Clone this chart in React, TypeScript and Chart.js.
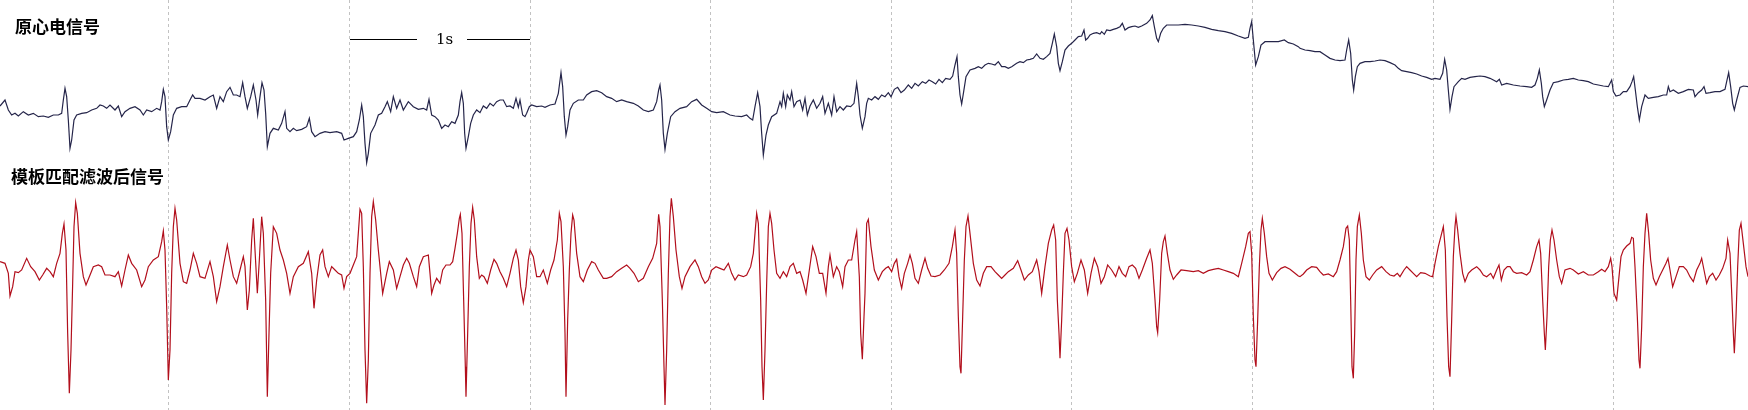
import React, { useEffect, useRef } from "react";
import { Chart, registerables } from "chart.js";

Chart.register(...registerables);

// Raw ECG: [sample index, amplitude (ADC units, baseline-relative)]
const rawEcg: [number, number][] = [
  [0, 12], [15, 30], [25, 0], [35, -15], [45, -10], [55, -18], [70, -5], [85, -15], [100, -10], [115, -20],
  [130, -18], [145, -22], [160, -15], [175, -15], [185, -10], [190, 30], [195, 65], [200, 40], [205, -30], [210, -115],
  [215, -90], [222, -30], [230, -15], [245, -10], [260, -8], [275, 0], [290, 5], [300, 15], [310, 12], [320, 5],
  [330, 15], [345, 0], [355, 12], [365, -20], [375, -5], [390, 5], [405, 10], [420, 0], [430, -15], [440, 0],
  [455, -5], [470, 5], [480, 0], [485, 25], [490, 62], [495, 40], [500, -50], [505, -90], [512, -65], [520, -15],
  [530, 5], [545, 10], [560, 10], [570, 30], [578, 45], [585, 35], [600, 35], [615, 30], [630, 40], [640, 45],
  [650, 5], [660, 40], [670, 25], [680, 55], [690, 68], [700, 45], [710, 45], [720, 40], [728, 82], [735, 40],
  [742, 5], [752, 40], [760, 75], [768, 30], [773, -15], [780, 40], [786, 82], [792, 60], [797, -10], [802, -110],
  [810, -70], [820, -55], [835, -60], [845, -40], [855, -5], [860, -55], [870, -65], [880, -55], [890, -62], [905, -58],
  [920, -50], [928, -25], [935, -65], [945, -80], [960, -70], [975, -65], [990, -68], [1010, -65], [1025, -70], [1032, -90],
  [1045, -85], [1060, -80], [1070, -65], [1078, -30], [1085, 15], [1090, -20], [1095, -100], [1100, -158], [1105, -130], [1112, -70],
  [1125, -45], [1135, -15], [1145, -10], [1155, 10], [1162, 25], [1172, -5], [1180, 40], [1190, 5], [1200, 30], [1210, 0],
  [1225, 25], [1240, 10], [1255, 2], [1270, 5], [1280, 0], [1287, 32],
  [1295, -15], [1305, -20], [1315, -30], [1325, -55], [1335, -45], [1345, -50], [1355, -35], [1365, -40], [1375, -15], [1380, 25],
  [1385, 52], [1390, 20], [1394, -70], [1398, -115], [1405, -80], [1412, -40], [1420, -15], [1430, 0], [1440, -8], [1450, 12],
  [1460, 5], [1470, 20], [1480, 12], [1490, 25], [1500, 30], [1510, 30], [1520, 10], [1530, 12], [1540, 5], [1548, 35],
  [1555, 8], [1560, 30], [1568, -15], [1575, -20], [1580, -10], [1588, 10], [1595, 15], [1610, 10], [1625, 12], [1635, 8],
  [1650, 15], [1665, 18], [1675, 50], [1683, 112], [1688, 70], [1693, -20], [1698, -75], [1703, -50], [1710, 0], [1720, 20],
  [1735, 30], [1750, 30], [1760, 45], [1775, 55], [1790, 58], [1805, 52], [1820, 40], [1835, 35], [1850, 25], [1865, 30],
  [1880, 25], [1900, 20], [1915, 12], [1930, 0], [1945, -5], [1960, 0], [1970, 25], [1976, 60], [1980, 75], [1985, 30],
  [1990, -70], [1995, -118], [2002, -70], [2012, -20], [2025, -5], [2040, 5], [2060, 10], [2075, 25], [2090, 32], [2105, 15],
  [2120, 5], [2135, -5], [2150, -8], [2170, -5], [2190, -15], [2205, -18], [2225, -20], [2240, -15], [2250, -25], [2258, -30],
  [2265, 10], [2273, 52], [2280, 10], [2285, -70], [2290, -135], [2298, -75], [2305, -45], [2315, -20], [2330, -10], [2340, 25],
  [2345, 10], [2350, 50], [2357, 10], [2362, 45], [2370, 30], [2375, 55], [2382, 10], [2390, 25], [2400, 30], [2408, 0],
  [2415, 35], [2422, -15], [2430, 12], [2440, 30], [2450, 5], [2460, 20], [2468, 40], [2475, -10], [2485, 20], [2495, -15],
  [2502, 40], [2510, -5], [2520, 10], [2530, 0], [2540, 12], [2552, 10], [2562, 20], [2570, 80], [2575, 40], [2580, -15],
  [2587, -55],
  [2595, -20], [2600, 20], [2605, 35], [2615, 30], [2625, 40], [2635, 32], [2645, 45], [2655, 40], [2665, 52], [2673, 40],
  [2683, 62], [2693, 68], [2703, 52], [2713, 60], [2725, 75], [2735, 65], [2745, 80], [2755, 72], [2767, 85], [2777, 80],
  [2787, 90], [2797, 85], [2807, 78], [2817, 92], [2827, 82], [2837, 95], [2850, 92], [2858, 102], [2865, 135], [2871, 160],
  [2875, 100], [2880, 45], [2885, 18], [2891, 55], [2898, 100], [2910, 120], [2925, 125], [2935, 130], [2945, 125], [2955, 135],
  [2965, 140], [2975, 138], [2985, 135], [2995, 145], [3005, 130], [3015, 130], [3025, 125], [3035, 130], [3050, 140], [3060, 145],
  [3070, 142], [3080, 150], [3090, 152], [3100, 155], [3110, 168], [3120, 155], [3130, 152], [3140, 160], [3150, 170], [3157, 200],
  [3163, 228], [3170, 190], [3175, 140], [3180, 118], [3187, 145], [3195, 180], [3205, 192], [3215, 200], [3225, 210], [3235, 220],
  [3245, 222], [3252, 240], [3257, 210], [3263, 215], [3270, 225], [3280, 230], [3290, 232], [3300, 228], [3305, 235], [3313, 227],
  [3320, 240], [3330, 238], [3340, 242], [3350, 245], [3360, 250], [3367, 260], [3375, 240], [3385, 247], [3395, 250], [3405, 252],
  [3415, 248], [3425, 252], [3440, 260], [3450, 270], [3457, 283], [3463, 250], [3470, 215], [3475, 205], [3482, 230], [3490, 245],
  [3500, 255], [3515, 255], [3535, 255], [3555, 257], [3575, 255], [3595, 252], [3615, 248], [3635, 242], [3655, 238], [3675, 235],
  [3695, 230], [3715, 222], [3735, 215], [3745, 218], [3750, 245], [3755, 265], [3760, 210], [3767, 135], [3775, 160], [3783, 195],
  [3795, 205], [3815, 205], [3835, 205], [3853, 210], [3865, 202], [3880, 198], [3895, 190],
  [3900, 185], [3915, 180], [3930, 178], [3945, 175], [3960, 175], [3975, 165], [3990, 155], [4005, 150], [4020, 148], [4035, 150],
  [4040, 180], [4046, 210], [4052, 170], [4057, 90], [4061, 60], [4066, 100], [4072, 130], [4080, 140], [4095, 145], [4110, 145],
  [4125, 147], [4140, 150], [4155, 148], [4170, 142], [4185, 135], [4195, 125], [4205, 118], [4220, 115], [4235, 112], [4250, 108],
  [4265, 102], [4280, 98], [4295, 92], [4305, 95], [4320, 92], [4328, 110], [4334, 152], [4340, 120], [4345, 60], [4350, 2],
  [4356, 40], [4362, 70], [4375, 85], [4385, 95], [4395, 92], [4410, 98], [4425, 100], [4440, 102], [4455, 100], [4470, 95],
  [4480, 90], [4490, 85], [4498, 92], [4505, 75], [4520, 80], [4540, 75], [4560, 72], [4580, 70], [4595, 68], [4605, 75],
  [4612, 95], [4618, 120], [4624, 80], [4628, 40], [4633, 10], [4640, 30], [4650, 60], [4660, 82], [4675, 85], [4690, 90],
  [4705, 92], [4720, 95], [4735, 90], [4750, 88], [4765, 85], [4780, 78], [4795, 75], [4810, 72], [4825, 70], [4835, 90],
  [4840, 55], [4848, 42], [4860, 45], [4870, 55], [4880, 55], [4890, 70], [4896, 85], [4901, 100], [4906, 60], [4912, 10],
  [4918, -30], [4925, 10], [4935, 45], [4945, 35], [4960, 38], [4975, 40], [4990, 45], [5000, 45], [5005, 70], [5010, 55],
  [5020, 60], [5035, 50], [5050, 55], [5065, 62], [5080, 60], [5085, 40], [5095, 52], [5105, 60], [5112, 70], [5118, 50],
  [5130, 52], [5145, 55], [5160, 55], [5175, 62], [5180, 85], [5186, 112], [5192, 70], [5198, 20], [5203, 0], [5210, 30],
  [5220, 68], [5230, 72], [5244, 70],
];

// Template-matched filter output: [sample index, amplitude]
const filteredEcg: [number, number][] = [
  [0, 35], [15, 30], [25, 0], [30, -68], [38, -40], [45, 5], [55, 2], [65, 10], [80, 45], [92, 20],
  [105, 5], [118, -20], [128, -5], [140, 15], [150, 5], [160, -10], [170, 30], [180, 60], [187, 120], [192, 148],
  [198, 70], [203, -180], [208, -360], [213, -230], [218, -30], [222, 140], [227, 212], [232, 180], [240, 60], [250, -10],
  [258, -35], [268, -10], [280, 20], [295, 25], [305, 20], [315, -5], [330, -5], [345, -10], [355, 5], [365, -38],
  [375, 10], [385, 55], [395, 30], [410, 10], [425, -40], [435, -20], [445, 20], [460, 40], [475, 50], [485, 95],
  [490, 127], [495, 70], [500, -100], [505, -320], [510, -230], [515, 0], [520, 140], [525, 195], [530, 160], [540, 30],
  [550, -25], [560, -30], [570, 10], [580, 60], [590, 30], [600, -10], [615, -15], [630, 35], [640, -10], [650, -85],
  [660, -40], [670, 20], [682, 85], [690, 40], [700, -10], [710, -30], [720, 10], [730, 50], [735, 20], [742, -110],
  [748, -50], [755, 100], [760, 165], [765, 70], [772, -60], [778, 40], [785, 170], [790, 120], [797, -80], [802, -370],
  [807, -180], [812, 0], [820, 140], [830, 120], [840, 70], [850, 40], [860, 0], [870, -60], [880, -10], [895, 20],
  [910, 30], [925, 65], [935, 0], [942, -105], [950, -20], [960, 55], [968, 70], [975, 20], [985, -10], [995, 20],
  [1005, 10], [1015, 0], [1025, -5], [1032, -45], [1040, -10], [1050, 0], [1060, 25], [1070, 50], [1080, 192], [1085, 180],
  [1090, 20], [1095, -230], [1100, -390], [1105, -260], [1110, 0], [1115, 170], [1120, 215], [1127, 160], [1135, 70], [1148, -60],
  [1160, 0], [1168, 35], [1180, 10], [1190, -45], [1200, -10], [1210, 25], [1220, 45], [1228, 30], [1240, -10], [1250, -40],
  [1258, 20], [1270, 50], [1285, 55],
  [1290, 0], [1295, -60], [1302, -35], [1310, -15], [1320, -30], [1328, 10], [1338, 25], [1350, 25], [1358, 35], [1365, 75],
  [1372, 120], [1378, 165], [1381, 177], [1386, 120], [1391, -80], [1396, -280], [1398, -370], [1403, -180], [1408, 20], [1413, 150],
  [1418, 198], [1423, 160], [1430, 50], [1438, -15], [1445, -5], [1452, -10], [1462, -30], [1472, 10], [1482, 42], [1490, 30],
  [1500, 5], [1510, -15], [1520, -40], [1530, 0], [1540, 45], [1548, 70], [1555, 40], [1562, -40], [1570, -88], [1578, -40],
  [1585, 40], [1590, 70], [1600, 50], [1610, -10], [1620, -10], [1630, 10], [1642, -30], [1652, 10], [1662, 40], [1672, 100],
  [1678, 180], [1683, 155], [1690, 20], [1695, -180], [1698, -370], [1703, -140], [1708, 10], [1713, 120], [1718, 175], [1722, 160],
  [1730, 60], [1740, -10], [1750, -25], [1762, 10], [1775, 35], [1785, 30], [1795, 10], [1810, -15], [1820, -15], [1835, -10],
  [1850, 5], [1865, 15], [1880, 25], [1890, 15], [1902, 0], [1915, -25], [1930, -15], [1945, 20], [1958, 45], [1970, 90],
  [1976, 177], [1980, 140], [1987, -80], [1992, -280], [1995, -395], [2000, -230], [2005, 0], [2010, 170], [2014, 225], [2020, 170],
  [2028, 70], [2038, -10], [2046, -45], [2055, -10], [2070, 20], [2085, 40], [2095, 20], [2105, -10], [2115, -30], [2125, -20],
  [2135, 10], [2148, 20], [2160, 15], [2172, 10], [2185, 30], [2195, 0], [2205, -20], [2215, -5], [2230, -10], [2240, -5],
  [2252, 20], [2260, 60], [2265, 120], [2270, 180], [2275, 150], [2282, -80], [2286, -280], [2290, -380], [2295, -230], [2300, -30],
  [2305, 140], [2310, 180], [2315, 150], [2322, 70], [2330, 0], [2340, -15], [2350, 5], [2360, -10], [2370, 20], [2380, 30],
  [2390, 0], [2400, 5], [2408, -20], [2418, -60], [2428, 10], [2438, 80], [2448, 50], [2458, 0], [2468, 0], [2478, -60],
  [2485, 20], [2490, 55], [2500, -10], [2510, 20], [2518, 5], [2528, -40], [2535, 20], [2545, 40], [2555, 40], [2565, 100],
  [2570, 125], [2578, -10], [2582, -180], [2587, -258], [2592, -130],
  [2595, -60], [2600, 150], [2605, 162], [2613, 80], [2623, 10], [2635, -20], [2647, 5], [2657, 15], [2665, 20], [2675, 5],
  [2683, 30], [2690, 42], [2697, -10], [2705, -45], [2713, 0], [2723, 30], [2730, 55], [2737, 30], [2745, -15], [2755, -30],
  [2765, 10], [2775, 45], [2783, 15], [2793, -8], [2805, -10], [2820, -5], [2833, 10], [2847, 30], [2857, 80], [2865, 130],
  [2870, 60], [2875, -130], [2880, -280], [2883, -300], [2888, -130], [2893, 40], [2898, 140], [2904, 172], [2910, 120], [2920, 30],
  [2930, -20], [2940, -38], [2950, 0], [2960, 20], [2973, 20], [2985, 5], [2995, -5], [3005, -15], [3015, -5], [3025, 5],
  [3040, 15], [3053, 38], [3063, 10], [3073, -20], [3085, -5], [3097, 5], [3110, 40], [3117, 5], [3125, -60], [3135, 20],
  [3145, 90], [3155, 130], [3161, 145], [3167, 100], [3172, -80], [3177, -180], [3180, -255], [3185, -140], [3190, 0], [3195, 120],
  [3201, 135], [3207, 100], [3215, 20], [3223, -25], [3232, 0], [3243, 40], [3253, 10], [3263, -60], [3273, 0], [3283, 45],
  [3293, 20], [3303, -30], [3313, -10], [3323, 25], [3335, 10], [3347, -10], [3357, 20], [3367, 0], [3377, -10], [3387, 20],
  [3397, 25], [3407, 15], [3417, -15], [3427, 10], [3440, 45], [3450, 70], [3457, 30], [3465, -80], [3470, -160], [3473, -178],
  [3479, -80], [3485, 60], [3490, 95], [3495, 112], [3502, 60], [3510, 10], [3520, -18], [3530, -5], [3543, 10], [3560, 8],
  [3580, 5], [3595, 8], [3610, 0], [3625, 8], [3640, 12], [3655, 15], [3670, 10], [3685, 5], [3700, 0], [3715, -10],
  [3725, 30], [3737, 80], [3745, 120], [3750, 125], [3755, 60], [3760, -130], [3765, -260], [3768, -280], [3773, -140], [3778, 20],
  [3783, 130], [3787, 165], [3793, 120], [3800, 50], [3807, 0], [3817, -20], [3830, 2], [3843, 15], [3855, 20], [3870, 12],
  [3885, 0], [3895, -8],
  [3900, -10], [3910, -2], [3920, 10], [3935, 20], [3950, 18], [3960, 5], [3970, -5], [3985, -2], [4000, -10], [4010, 5],
  [4020, 40], [4030, 80], [4038, 135], [4043, 142], [4048, 100], [4052, -80], [4056, -280], [4060, -315], [4064, -180], [4068, 40],
  [4072, 140], [4078, 175], [4084, 120], [4090, 40], [4098, -10], [4108, -20], [4118, -5], [4130, 10], [4145, 20], [4158, 5],
  [4170, -5], [4182, -8], [4192, 0], [4200, -10], [4212, 10], [4220, 20], [4230, 10], [4240, 0], [4250, -10], [4262, 2],
  [4275, 0], [4290, -8], [4298, -10], [4305, 30], [4315, 80], [4325, 120], [4330, 140], [4336, 70], [4341, -130], [4346, -280],
  [4350, -310], [4355, -140], [4360, 50], [4365, 140], [4368, 170], [4373, 130], [4380, 60], [4388, 0], [4395, -25], [4405, 0],
  [4415, 10], [4430, 20], [4440, 10], [4450, -5], [4460, -10], [4472, 0], [4480, -15], [4490, 10], [4497, 25], [4504, -20],
  [4512, 10], [4522, 20], [4530, 20], [4540, 5], [4550, 0], [4565, 2], [4580, -5], [4590, 5], [4600, 40], [4610, 80],
  [4617, 100], [4622, 60], [4628, -80], [4633, -180], [4636, -230], [4641, -130], [4646, 20], [4651, 100], [4656, 130], [4662, 100],
  [4670, 40], [4678, -10], [4685, -30], [4695, 10], [4710, 15], [4720, 10], [4735, -2], [4750, 5], [4765, -5], [4780, -5],
  [4795, 5], [4805, 12], [4815, 5], [4825, 20], [4832, 45], [4836, 20], [4842, -60], [4850, -80], [4857, -10], [4863, 50],
  [4870, 70], [4880, 82], [4890, 90], [4895, 108], [4900, 105], [4905, 20], [4912, -130], [4917, -260], [4920, -285], [4925, -160],
  [4930, 20], [4935, 120], [4940, 180], [4946, 120], [4952, 40], [4960, -15], [4968, -35], [4978, -10], [4988, 10], [4998, 30],
  [5004, 45], [5010, 10], [5018, -40], [5028, -10], [5038, 20], [5050, 20], [5060, 10], [5070, -10], [5080, -25], [5090, 10],
  [5100, 30], [5105, 45], [5112, 10], [5120, -30], [5128, -10], [5138, 0], [5148, -20], [5158, -5], [5168, 15], [5178, 45],
  [5183, 100], [5190, 60], [5196, -80], [5200, -180], [5203, -240], [5208, -130], [5213, 20], [5218, 130], [5223, 150], [5230, 90],
  [5238, 20], [5244, -10],
];

// One-second marks (sample index) drawn as dashed vertical lines
const secondMarks = [505, 1047, 1589, 2130, 2672, 3214, 3756, 4298, 4839];
const sampleRange = [0, 5244];
const rawRange = [-900, 330];
const filteredRange = [-410, 820];

const rawTitle = "原心电信号";
const filteredTitle = "模板匹配滤波后信号";
const scaleLabel = "1s";

const W = 1748;
const H = 410;

export default function App() {
  const ref = useRef<HTMLCanvasElement | null>(null);

  useEffect(() => {
    document.body.style.margin = "0";
    document.body.style.overflow = "hidden";
    const canvas = ref.current;
    if (!canvas) return;

    const gridPlugin = {
      id: "secondGrid",
      beforeDatasetsDraw(chart: any) {
        const { ctx, chartArea, scales } = chart;
        const xs = scales.x;
        ctx.save();
        ctx.strokeStyle = "#c2c2c2";
        ctx.lineWidth = 1;
        ctx.setLineDash([3, 3]);
        secondMarks.forEach((s) => {
          const px = Math.round(xs.getPixelForValue(s)) + 0.5;
          ctx.beginPath();
          ctx.moveTo(px, chartArea.top);
          ctx.lineTo(px, chartArea.bottom);
          ctx.stroke();
        });
        ctx.setLineDash([]);
        // 1 s scale bar between second and third marks
        const a = Math.round(xs.getPixelForValue(secondMarks[1]));
        const b = Math.round(xs.getPixelForValue(secondMarks[2]));
        const y = chartArea.top + 39.5;
        ctx.strokeStyle = "#000";
        ctx.beginPath();
        ctx.moveTo(a + 1, y);
        ctx.lineTo(a + 68, y);
        ctx.moveTo(b - 63, y);
        ctx.lineTo(b, y);
        ctx.stroke();
        ctx.restore();
      },
    };

    const chart = new Chart(canvas, {
      type: "line",
      data: {
        datasets: [
          {
            label: rawTitle,
            data: rawEcg.map(([x, y]) => ({ x, y })),
            yAxisID: "yRaw",
            borderColor: "#25254a",
            borderWidth: 1.2,
            pointRadius: 0,
            tension: 0,
            fill: false,
          },
          {
            label: filteredTitle,
            data: filteredEcg.map(([x, y]) => ({ x, y })),
            yAxisID: "yFilt",
            borderColor: "#b20f1c",
            borderWidth: 1.2,
            pointRadius: 0,
            tension: 0,
            fill: false,
          },
        ],
      },
      options: {
        responsive: false,
        animation: false,
        layout: { padding: 0 },
        plugins: {
          legend: { display: false },
          tooltip: { enabled: false },
        },
        scales: {
          x: { type: "linear", min: sampleRange[0], max: sampleRange[1], display: false },
          yRaw: { type: "linear", min: rawRange[0], max: rawRange[1], display: false },
          yFilt: { type: "linear", min: filteredRange[0], max: filteredRange[1], display: false },
        },
      },
      plugins: [gridPlugin],
    } as any);

    return () => chart.destroy();
  }, []);

  const titleStyle: React.CSSProperties = {
    position: "absolute",
    fontFamily: '"Noto Sans CJK SC", sans-serif',
    fontWeight: 700,
    fontSize: 17,
    lineHeight: "17px",
    color: "#000",
    whiteSpace: "nowrap",
  };

  return (
    <div style={{ position: "relative", width: W, height: H, background: "#fff", overflow: "hidden" }}>
      <canvas ref={ref} width={W} height={H} style={{ display: "block", position: "absolute", left: 0, top: 0 }} />
      <div style={{ ...titleStyle, left: 15, top: 17 }}>{rawTitle}</div>
      <div style={{ ...titleStyle, left: 11, top: 167 }}>{filteredTitle}</div>
      <div
        style={{
          position: "absolute",
          left: 436,
          top: 31,
          fontFamily: '"DejaVu Serif", serif',
          fontSize: 15,
          lineHeight: "16px",
          color: "#000",
        }}
      >
        {scaleLabel}
      </div>
    </div>
  );
}
